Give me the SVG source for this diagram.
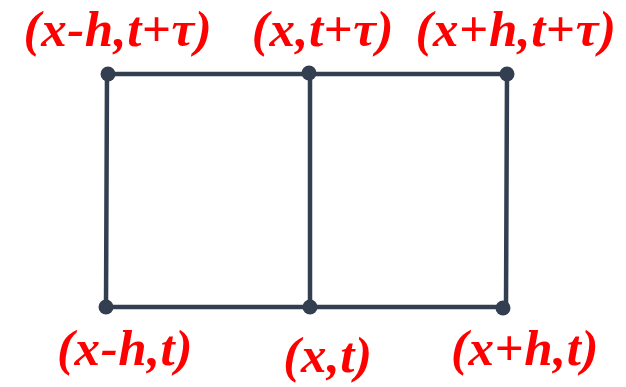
<svg xmlns="http://www.w3.org/2000/svg" width="626" height="387" viewBox="0 0 626 387">
<style>
.ln{stroke:#333f50;stroke-width:4.5;fill:none;stroke-linecap:round}
.dot{fill:#333f50}
.lb{font-family:"Liberation Serif","Times New Roman",serif;font-weight:bold;font-style:italic;font-size:51px;letter-spacing:0.6px;fill:#ff0000;text-anchor:middle}
.up{font-style:normal}
</style>
<rect width="626" height="387" fill="#ffffff"/>
<g id="connectors">
<line class="ln" x1="108" y1="74" x2="507" y2="74"/>
<line class="ln" x1="106" y1="307" x2="503" y2="307"/>
<line class="ln" x1="107" y1="74" x2="106" y2="307"/>
<line class="ln" x1="310" y1="74" x2="310" y2="307"/>
<line class="ln" x1="507" y1="74" x2="506" y2="307"/>
</g>
<g id="n1"><circle class="dot" cx="108" cy="74" r="7.5"/><text class="lb" x="118" y="46">(x-h,t<tspan class="up">+</tspan>τ)</text></g>
<g id="n2"><circle class="dot" cx="309" cy="73" r="7.5"/><text class="lb" x="323" y="46">(x,t<tspan class="up">+</tspan>τ)</text></g>
<g id="n3"><circle class="dot" cx="507" cy="74" r="7.5"/><text class="lb" x="516" y="46">(x<tspan class="up">+</tspan>h,t<tspan class="up">+</tspan>τ)</text></g>
<g id="n4"><circle class="dot" cx="106" cy="307" r="7.5"/><text class="lb" x="125" y="365">(x-h,t)</text></g>
<g id="n5"><circle class="dot" cx="310" cy="307" r="7.5"/><text class="lb" x="328" y="372">(x,t)</text></g>
<g id="n6"><circle class="dot" cx="503" cy="308" r="7.5"/><text class="lb" x="525" y="365">(x<tspan class="up">+</tspan>h,t)</text></g>
</svg>
